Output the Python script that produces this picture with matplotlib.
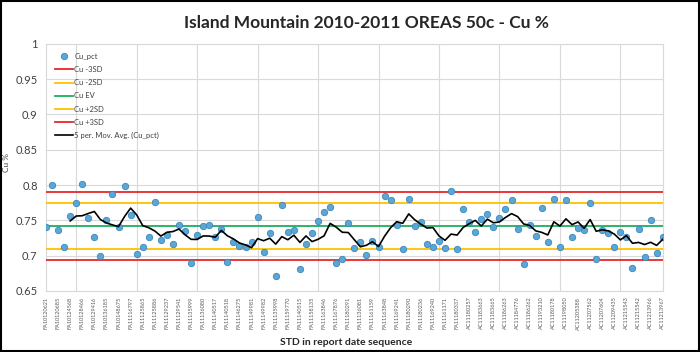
import matplotlib
matplotlib.use('Agg')
import matplotlib.pyplot as plt
import numpy as np

# Cu_pct values in report date sequence
cu_pct = [0.740, 0.800, 0.737, 0.713, 0.756, 0.775, 0.802, 0.753, 0.727, 0.699,
          0.751, 0.788, 0.741, 0.799, 0.758, 0.703, 0.712, 0.726, 0.776, 0.722,
          0.730, 0.717, 0.744, 0.735, 0.690, 0.729, 0.742, 0.743, 0.727, 0.738,
          0.691, 0.720, 0.714, 0.713, 0.719, 0.755, 0.705, 0.732, 0.671, 0.772,
          0.733, 0.737, 0.681, 0.717, 0.732, 0.749, 0.762, 0.769, 0.690, 0.696,
          0.747, 0.711, 0.719, 0.701, 0.721, 0.713, 0.784, 0.779, 0.744, 0.709,
          0.780, 0.742, 0.748, 0.717, 0.712, 0.721, 0.711, 0.792, 0.710, 0.766,
          0.748, 0.734, 0.752, 0.759, 0.740, 0.754, 0.766, 0.779, 0.738, 0.688,
          0.743, 0.728, 0.768, 0.720, 0.781, 0.713, 0.779, 0.727, 0.739, 0.736,
          0.775, 0.696, 0.737, 0.732, 0.713, 0.734, 0.726, 0.683, 0.738, 0.698,
          0.750, 0.704, 0.726]

# labels shown on every second category
tick_labels = ['FA10120621', 'FA10120685', 'FA10124568', 'FA10128466', 'FA10129416',
               'FA10136185', 'FA10148675', 'FA11116797', 'FA11125865', 'FA11125886',
               'FA11129237', 'FA11129541', 'FA11135999', 'FA11136080', 'FA11140517',
               'FA11140518', 'FA11146275', 'FA11149981', 'FA11149982', 'FA11135998',
               'FA11159770', 'FA11140515', 'FA11158135', 'FA11163846', 'FA11167876',
               'FA11180291', 'FA11136081', 'FA11161159', 'FA11163848', 'FA11169241',
               'FA11180290', 'FA11180236', 'FA11169240', 'FA11161171', 'FA11180337',
               'AC11180257', 'AC11183663', 'AC11183665', 'AC11186263', 'AC11184776',
               'AC11186262', 'AC11193210', 'AC11180178', 'AC11198050', 'AC11205388',
               'AC11207562', 'AC11207604', 'AC11209435', 'AC11215543', 'AC11215542',
               'AC11213966', 'AC11213967']

cu_ev = 0.742
cu_sd = 0.016

if __name__ == '__main__':
    plt.rcParams['font.family'] = ['Lato', 'DejaVu Sans']
    y = np.array(cu_pct)
    x = np.arange(len(y))

    fig = plt.figure(figsize=(7, 3.52), dpi=100)
    ax = fig.add_axes([0.0657, 0.1733, 0.881, 0.702])

    ax.plot(x, y, 'o', ms=4.6, mfc='#5aa7d6', mec='#3b87bb', mew=0.6,
            label='Cu_pct', zorder=4)
    lines = [(cu_ev - 3 * cu_sd, '#e8262a', 'Cu -3SD'),
             (cu_ev - 2 * cu_sd, '#ffc000', 'Cu -2SD'),
             (cu_ev, '#1fae5d', 'Cu EV'),
             (cu_ev + 2 * cu_sd, '#ffc000', 'Cu +2SD'),
             (cu_ev + 3 * cu_sd, '#e8262a', 'Cu +3SD')]
    for val, col, lab in lines:
        ax.plot([x[0], x[-1]], [val, val], color=col, lw=1.3, label=lab, zorder=3)

    ma = np.convolve(y, np.ones(5) / 5, mode='valid')
    ax.plot(x[4:], ma, color='black', lw=1.2, label='5 per. Mov. Avg. (Cu_pct)', zorder=5)

    ax.set_xlim(0, len(y) - 1)
    ax.set_ylim(0.65, 1.0)
    ax.set_yticks(np.arange(0.65, 1.001, 0.05))
    ax.set_yticklabels(['0.65', '0.7', '0.75', '0.8', '0.85', '0.9', '0.95', '1'])
    ax.set_xticks(x[::2])
    ax.set_xticklabels(tick_labels, rotation=90, fontsize=4, color='#595959')
    ax.set_xticks(np.arange(0, len(y), 5), minor=True)
    ax.tick_params(axis='y', labelsize=8, colors='#404040', length=0, pad=6)
    ax.tick_params(axis='x', which='both', length=0, pad=4)
    ax.grid(axis='y', color='#d9d9d9', lw=0.8)
    ax.grid(axis='x', which='minor', color='#d9d9d9', lw=0.8)
    ax.grid(axis='x', which='major', visible=False)
    ax.set_axisbelow(True)
    for s in ax.spines.values():
        s.set_color('#d9d9d9')
        s.set_linewidth(0.8)

    ax.set_ylabel('Cu %', fontsize=6, color='#404040')
    ax.yaxis.set_label_coords(-0.058, 0.52)
    ax.set_xlabel('STD in report date sequence', fontsize=7.5, fontweight='bold',
                  color='#262626')
    ax.xaxis.set_label_coords(0.487, -0.19)
    fig.text(0.524, 0.935, 'Island Mountain 2010-2011 OREAS 50c - Cu %', ha='center',
             va='center', fontsize=12.5, fontweight='bold', color='#262626')

    leg = ax.legend(loc='upper left', fontsize=5.5, frameon=False, handlelength=2.3,
                    handletextpad=0.2, labelspacing=0.8, borderaxespad=0.8)
    for t in leg.get_texts():
        t.set_color('#404040')

    fig.patches.append(plt.Rectangle((0.002, 0.003), 0.996, 0.994, transform=fig.transFigure,
                                     fill=False, edgecolor='black', lw=1.5))
    fig.savefig('out.png', dpi=100)
